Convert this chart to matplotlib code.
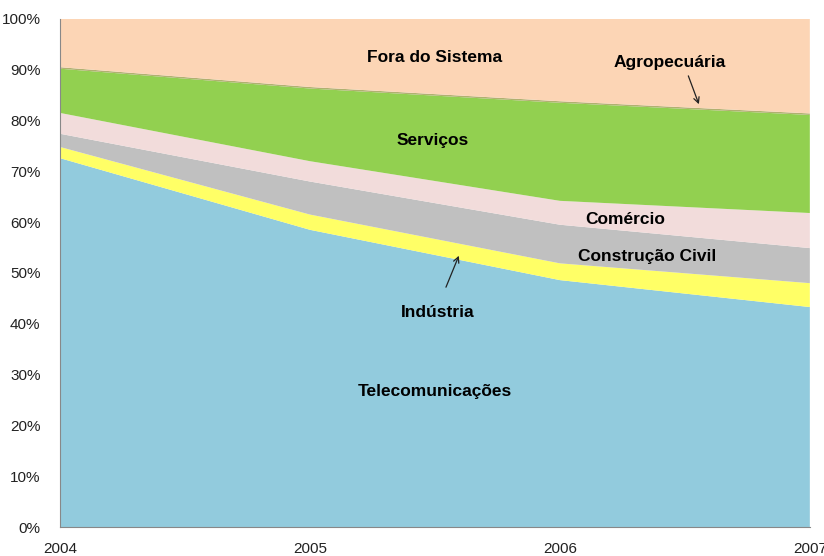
import matplotlib.pyplot as plt
from matplotlib.ticker import PercentFormatter

plt.rcParams["font.family"] = ["Liberation Sans", "DejaVu Sans"]

years = [2004, 2005, 2006, 2007]
telecom = [72.6, 58.5, 48.6, 43.3]
industria = [2.2, 3.0, 3.3, 4.7]
construcao = [2.6, 6.5, 7.6, 6.9]
comercio = [4.1, 4.0, 4.7, 6.9]
servicos = [8.7, 14.3, 19.3, 19.3]
agro = [0.3, 0.3, 0.3, 0.3]
fora = [9.5, 13.4, 16.2, 18.6]

series = [telecom, industria, construcao, comercio, servicos, agro, fora]
colors = ["#92CBDD", "#FFFF66", "#C0C0C0", "#F2DCDB", "#92D050", "#B0B070", "#FCD5B5"]

fig = plt.figure(figsize=(8.24, 5.56), dpi=100)
ax = fig.add_axes([0.0728, 0.052, 0.910, 0.914])
ax.stackplot(years, *series, colors=colors, linewidth=0)

ax.set_xlim(2004, 2007)
ax.set_ylim(0, 100)
ax.set_xticks(years)
ax.set_yticks(range(0, 101, 10))
ax.yaxis.set_major_formatter(PercentFormatter(decimals=0))
ax.tick_params(axis="both", length=0, labelsize=11, colors="#222222")
ax.tick_params(axis="y", pad=14)
ax.tick_params(axis="x", pad=11)
for side in ["top", "right"]:
    ax.spines[side].set_visible(False)
for side in ["left", "bottom"]:
    ax.spines[side].set_color("#888888")

lbl = dict(fontsize=12.5, fontweight="bold", ha="center", va="center")
ax.text(2005.5, 92.5, "Fora do Sistema", **lbl)
ax.text(2006.44, 91.5, "Agropecuária", **lbl)
ax.text(2005.49, 76.0, "Serviços", **lbl)
ax.text(2006.26, 60.6, "Comércio", **lbl)
ax.text(2006.35, 53.3, "Construção Civil", **lbl)
ax.text(2005.51, 42.3, "Indústria", **lbl)
ax.text(2005.5, 26.6, "Telecomunicações", **lbl)

arrow = dict(arrowstyle="->", color="#222222", lw=0.9)
ax.annotate("", xy=(2006.56, 82.7), xytext=(2006.51, 89.3), arrowprops=arrow)
ax.annotate("", xy=(2005.60, 53.9), xytext=(2005.54, 46.7), arrowprops=arrow)

fig.savefig("out.png", dpi=100)
